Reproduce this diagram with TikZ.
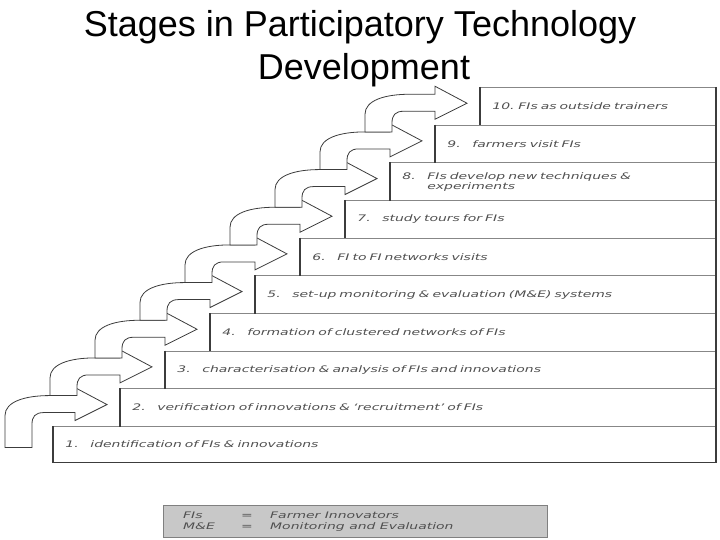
\documentclass[tikz,border=0pt]{standalone}
\usepackage{fontspec}
\newfontfamily\titlefont{Liberation Sans}
\newfontfamily\boxfont[FakeStretch=1.55]{DejaVu Sans}
\usetikzlibrary{calc}
\definecolor{txtgray}{RGB}{80,80,80}
\definecolor{linegray}{RGB}{135,135,135}
\definecolor{edgedark}{RGB}{60,60,60}
\definecolor{leggray}{RGB}{200,200,200}
\begin{document}
\begin{tikzpicture}[x=1pt,y=-1pt,
  stagebox/.style={draw=linegray, line width=0.8pt, fill=white, rectangle,
    anchor=north west, inner xsep=12pt, inner ysep=0pt, align=left,
    minimum height=37.67pt,
    font=\boxfont\itshape\fontsize{9}{10}\selectfont, text=txtgray},
  leftedge/.style={draw=edgedark, line width=1.6pt},
  rightedge/.style={draw=edgedark, line width=2.2pt},
  blockarrow/.style={draw=edgedark, line width=0.8pt, fill=white, line join=miter},
  titletext/.style={font=\titlefont\fontsize{36}{42}\selectfont, anchor=base, inner sep=0pt},
  legtextstyle/.style={font=\boxfont\itshape\fontsize{9}{11}\selectfont, text=txtgray, anchor=west, inner sep=0pt},
]
\useasboundingbox (0,0) rectangle (720,540);

% title
\node[titletext] (title1) at (360,37) {Stages in Participatory Technology};
\node[titletext] (title2) at (364,80) {Development};

% stage boxes
\node[stagebox, minimum width=662pt, minimum height=36pt, text width=638pt] (b1) at (53,426)
  {\makebox[25pt][l]{1.}identification of FIs \& innovations};
\node[stagebox, minimum width=595pt, text width=571pt] (b2) at (120,388.33)
  {\makebox[25pt][l]{2.}verification of innovations \& ‘recruitment’ of FIs};
\node[stagebox, minimum width=550pt, text width=526pt] (b3) at (165,350.67)
  {\makebox[25pt][l]{3.}characterisation \& analysis of FIs and innovations};
\node[stagebox, minimum width=505pt, text width=481pt] (b4) at (210,313)
  {\makebox[25pt][l]{4.}formation of clustered networks of FIs};
\node[stagebox, minimum width=460pt, text width=436pt] (b5) at (255,275.33)
  {\makebox[25pt][l]{5.}set-up monitoring \& evaluation (M\&E) systems};
\node[stagebox, minimum width=415pt, text width=391pt] (b6) at (300,237.67)
  {\makebox[25pt][l]{6.}FI to FI networks visits};
\node[stagebox, minimum width=370pt, text width=346pt] (b7) at (345,200)
  {\makebox[25pt][l]{7.}study tours for FIs};
\node[stagebox, minimum width=325pt, text width=301pt] (b8) at (390,162.33)
  {\makebox[25pt][l]{8.}\parbox[t]{270pt}{FIs develop new techniques \&\\experiments}};
\node[stagebox, minimum width=280pt, text width=256pt] (b9) at (435,124.67)
  {\makebox[25pt][l]{9.}farmers visit FIs};
\node[stagebox, minimum width=235pt, text width=211pt] (b10) at (480,87)
  {\makebox[26pt][l]{10.}FIs as outside trainers};

\foreach \i in {1,...,10}{
  \draw[leftedge] (b\i.north west) -- (b\i.south west);
}
\draw[rightedge] (b10.north east) -- (b1.south east);
\draw[draw=edgedark, line width=1.2pt] (b1.south west) -- (b1.south east);

% curved block arrows, each pointing at the next stage
\foreach \i/\bot in {2/43,3/28.67,4/28.67,5/28.67,6/28.67,7/28.67,8/28.67,9/28.67,10/28.67}{
  \begin{scope}[shift={($(b\i.west)+(-13,-3)$)}]
    \draw[blockarrow] (-102,\bot) -- (-102,11)
      .. controls (-102,-3) and (-82,-9) .. (-57,-9) -- (-32,-9) -- (-32,-17)
      -- (0,0) -- (-32,16) -- (-32,8) -- (-63,8)
      .. controls (-72,8) and (-75,12) .. (-75,20) -- (-75,\bot) -- cycle;
  \end{scope}
}

% legend
\node[draw=gray, line width=0.8pt, fill=leggray, rectangle, anchor=north west,
  inner sep=0pt, minimum width=384pt, minimum height=32pt] (legend) at (163,505) {};
\node[legtextstyle] (legtext) at ($(legend.west)+(20,0)$)
  {\begin{tabular}{@{}p{58pt}@{}p{29pt}@{}l@{}}
   FIs & = & Farmer Innovators\\
   M\&E & = & Monitoring and Evaluation
   \end{tabular}};
\end{tikzpicture}
\end{document}
